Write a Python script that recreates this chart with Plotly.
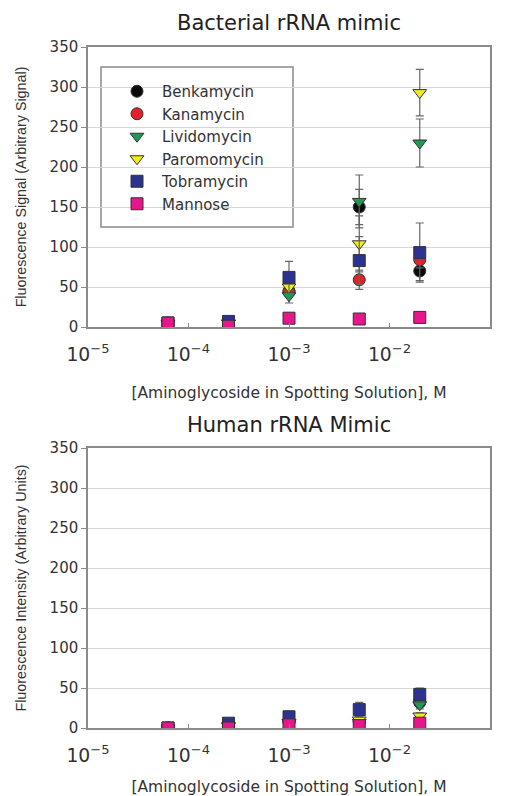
import plotly.graph_objects as go
from plotly.subplots import make_subplots

conc = [6.25e-5, 2.5e-4, 1e-3, 5e-3, 2e-2]
names = ["Benkamycin", "Kanamycin", "Lividomycin", "Paromomycin", "Tobramycin", "Mannose"]

# Bacterial rRNA mimic (top)
bact_benk = [2, 5, 45, 150, 70]
bact_kana = [5, 5, 44, 59, 84]
bact_livi = [4, 5, 39, 157, 230]
bact_paro = [5, 5, 50, 104, 293]
bact_tobr = [5, 7, 62, 83, 93]
bact_mann = [5, 1, 11, 10, 12]
bact_benk_err = [1, 2, 6, 22, 12]
bact_kana_err = [1, 1, 6, 12, 10]
bact_livi_err = [1, 1, 9, 33, 30]
bact_paro_err = [1, 1, 8, 35, 29]
bact_tobr_err = [1, 2, 20, 30, 37]
bact_mann_err = [1, 1, 2, 2, 2]

# Human rRNA mimic (bottom)
hum_benk = [0, 3, 8, 8, 32]
hum_kana = [0, 3, 8, 8, 34]
hum_livi = [0, 3, 7, 7, 29]
hum_paro = [0, 2, 7, 10, 15]
hum_tobr = [0, 6, 14, 23, 42]
hum_mann = [0, 0, 4, 3, 6]
hum_benk_err = [1, 1, 2, 3, 5]
hum_kana_err = [1, 1, 2, 3, 5]
hum_livi_err = [1, 1, 2, 3, 5]
hum_paro_err = [1, 1, 2, 3, 4]
hum_tobr_err = [1, 2, 7, 9, 8]
hum_mann_err = [1, 1, 1, 1, 1]

colors = ["#0a0a0a", "#e3202b", "#1e9a55", "#f2ec1c", "#2b3290", "#e8168c"]
symbols = ["circle", "circle", "triangle-down", "triangle-down", "square", "square"]

bact = [bact_benk, bact_kana, bact_livi, bact_paro, bact_tobr, bact_mann]
bact_err = [bact_benk_err, bact_kana_err, bact_livi_err, bact_paro_err, bact_tobr_err, bact_mann_err]
hum = [hum_benk, hum_kana, hum_livi, hum_paro, hum_tobr, hum_mann]
hum_err = [hum_benk_err, hum_kana_err, hum_livi_err, hum_paro_err, hum_tobr_err, hum_mann_err]

# the page body adds an 8px offset, so the figure is 8px smaller
OFF = 8
W, H = 505 - OFF, 796 - OFF
PL, PR, PT, PB = 88, 490, 47, 728   # page px of the plotting region
plot_h = PB - PT
plot_w = PR - PL
top_dom0 = (PB - 327) / plot_h
bot_dom1 = (PB - 448) / plot_h


def px_x(p):
    return (p - PL) / plot_w


def px_y(p):
    return (PB - p) / plot_h


FONT = "DejaVu Sans"
YFONT = "Liberation Sans, Arial"

fig = make_subplots(rows=2, cols=1)

for i, n in enumerate(names):
    for row, vals, errs in [(1, bact[i], bact_err[i]), (2, hum[i], hum_err[i])]:
        fig.add_trace(go.Scatter(
            x=conc, y=vals, mode="markers", name=n,
            legendgroup=n, showlegend=(row == 1),
            marker=dict(symbol=symbols[i], color=colors[i], size=12,
                        line=dict(color="#333333", width=1)),
            error_y=dict(type="data", array=errs, color="#666666",
                         thickness=1.2, width=4),
        ), row=row, col=1)

axis_common = dict(showline=True, linecolor="#8a8a8a", linewidth=1.5, mirror=True,
                   automargin=False)
for r in (1, 2):
    fig.update_xaxes(type="log", range=[-5, -1], dtick=1, exponentformat="power",
                     showgrid=False, zeroline=False, ticks="inside", ticklen=4,
                     tickcolor="#8a8a8a",
                     tickfont=dict(family=FONT, size=15, color="#333"),
                     ticklabelstandoff=10,
                     title=dict(text="[Aminoglycoside in Spotting Solution], M",
                                font=dict(family=FONT, size=15.5, color="#333"),
                                standoff=24),
                     row=r, col=1, **axis_common)
    fig.update_yaxes(range=[0, 350], dtick=50, showgrid=True, gridcolor="#d6d6d6",
                     gridwidth=1.2, zeroline=False, ticks="outside", ticklen=5,
                     tickcolor="#8a8a8a",
                     tickfont=dict(family=FONT, size=15, color="#333"),
                     row=r, col=1, **axis_common)

fig.update_yaxes(title=dict(text="Fluorescence Signal (Arbitrary Signal)",
                            font=dict(family=YFONT, size=14.3, color="#333"),
                            standoff=20), row=1, col=1)
fig.update_yaxes(title=dict(text="Fluorescence Intensity (Arbitrary Units)",
                            font=dict(family=YFONT, size=14.3, color="#333"),
                            standoff=20), row=2, col=1)

fig.update_layout(
    width=W, height=H,
    margin=dict(l=PL - OFF, r=W - (PR - OFF), t=PT - OFF, b=H - (PB - OFF)),
    paper_bgcolor="white", plot_bgcolor="white",
    xaxis=dict(domain=[0, 1]), xaxis2=dict(domain=[0, 1]),
    yaxis=dict(domain=[top_dom0, 1]), yaxis2=dict(domain=[0, bot_dom1]),
    showlegend=True,
    legend=dict(x=px_x(112), y=px_y(75), xanchor="left", yanchor="top",
                bgcolor="rgba(0,0,0,0)", borderwidth=0,
                font=dict(family=FONT, size=15, color="#333"),
                tracegroupgap=0, itemwidth=40),
    shapes=[dict(type="rect", xref="paper", yref="paper",
                 x0=px_x(101), x1=px_x(293), y0=px_y(227), y1=px_y(67),
                 line=dict(color="#8a8a8a", width=1.5), fillcolor="white",
                 layer="between")],
    annotations=[
        dict(text="Bacterial rRNA mimic", x=0.5, xref="paper",
             y=px_y(23), yref="paper", yanchor="middle", showarrow=False,
             font=dict(family=FONT, size=21, color="#222")),
        dict(text="Human rRNA Mimic", x=0.5, xref="paper",
             y=px_y(425), yref="paper", yanchor="middle", showarrow=False,
             font=dict(family=FONT, size=21, color="#222")),
    ],
)

fig.write_html("out.html")
